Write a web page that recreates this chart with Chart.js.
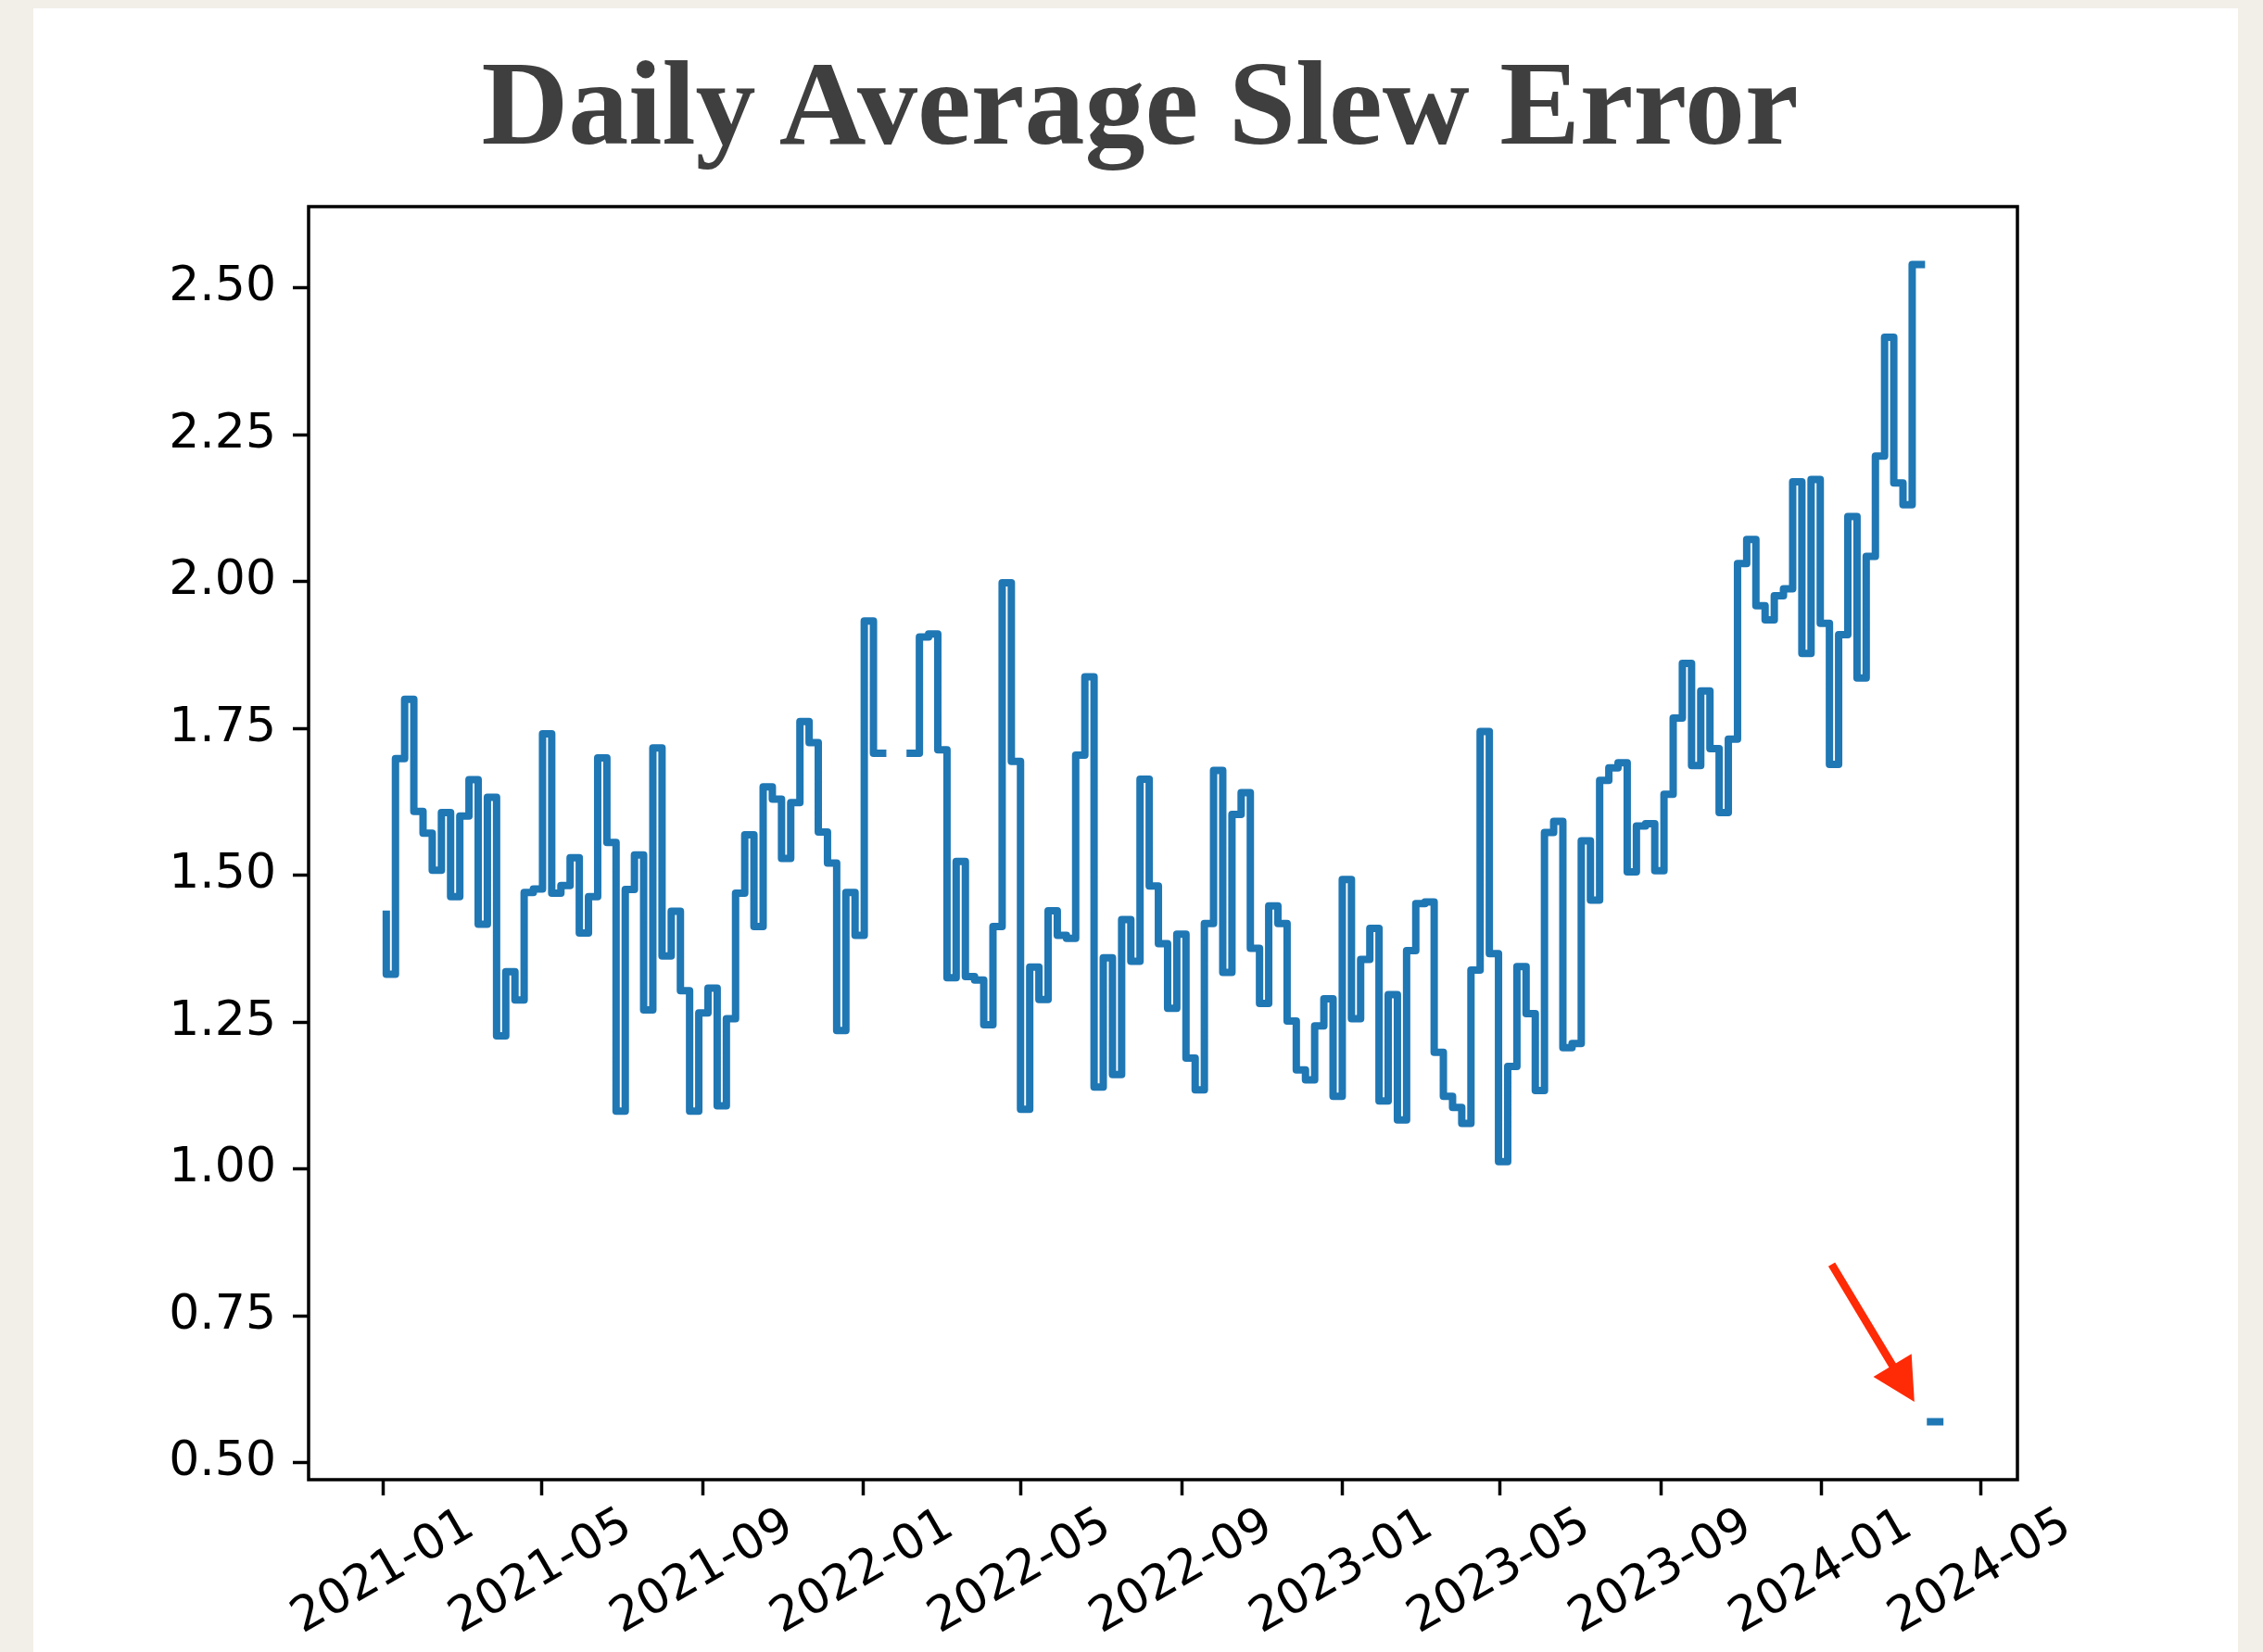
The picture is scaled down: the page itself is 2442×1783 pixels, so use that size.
<!DOCTYPE html>
<html><head><meta charset="utf-8">
<script src="https://cdn.jsdelivr.net/npm/chart.js@4.4.1/dist/chart.umd.min.js"></script>
<style>
html,body{margin:0;padding:0;width:2442px;height:1783px;overflow:hidden;background:#f2efe9;}
#card{position:absolute;left:36px;top:9px;width:2379px;height:1774px;background:#ffffff;}
#title{position:absolute;left:0;top:46px;width:2460px;margin:0;text-align:center;font-family:'Liberation Serif',serif;font-weight:bold;font-size:130px;line-height:130px;color:#3f3f3f;}
#c{position:absolute;left:0;top:0;}
</style></head><body>
<div id="card"></div>
<h1 id="title">Daily Average Slew Error</h1>
<canvas id="c" width="2442" height="1783"></canvas>
<script>
// ---- data ----
const firstWeek = '2021-01-03';   // weekly buckets (Sundays)
const weekDays = 7;
const slewError = [
  1.434, 1.332, 1.699, 1.800, 1.609, 1.572, 1.509, 1.607, 1.464, 1.601,
  1.663, 1.417, 1.633, 1.227, 1.336, 1.288, 1.471, 1.477, 1.741, 1.470,
  1.483, 1.530, 1.402, 1.464, 1.700, 1.556, 1.099, 1.476, 1.535, 1.271,
  1.717, 1.363, 1.439, 1.304, 1.099, 1.266, 1.308, 1.108, 1.256, 1.470,
  1.569, 1.413, 1.651, 1.630, 1.529, 1.624, 1.762, 1.726, 1.574, 1.521,
  1.236, 1.471, 1.398, 1.933, 1.708, null,  null,  null,  1.708, 1.906,
  1.911, 1.714, 1.326, 1.524, 1.328, 1.322, 1.246, 1.413, 1.998, 1.694,
  1.102, 1.344, 1.289, 1.440, 1.398, 1.393, 1.705, 1.838, 1.140, 1.360,
  1.161, 1.425, 1.354, 1.664, 1.482, 1.384, 1.274, 1.400, 1.189, 1.135,
  1.418, 1.679, 1.335, 1.604, 1.641, 1.376, 1.282, 1.448, 1.418, 1.252,
  1.169, 1.152, 1.244, 1.290, 1.124, 1.493, 1.256, 1.357, 1.410, 1.116,
  1.297, 1.084, 1.372, 1.452, 1.455, 1.199, 1.124, 1.105, 1.078, 1.339,
  1.745, 1.367, 1.013, 1.175, 1.345, 1.265, 1.134, 1.573, 1.592, 1.207,
  1.214, 1.559, 1.458, 1.662, 1.683, 1.692, 1.506, 1.584, 1.588, 1.508,
  1.638, 1.768, 1.861, 1.687, 1.814, 1.716, 1.607, 1.732, 2.031, 2.072,
  1.959, 1.935, 1.976, 1.988, 2.170, 1.878, 2.174, 1.929, 1.689, 1.910,
  2.111, 1.836, 2.043, 2.214, 2.416, 2.168, 2.131, 2.540, null,  0.570
];
const xTickLabels = ['2021-01','2021-05','2021-09','2022-01','2022-05','2022-09',
                     '2023-01','2023-05','2023-09','2024-01','2024-05'];
const yTickValues = [0.50, 0.75, 1.00, 1.25, 1.50, 1.75, 2.00, 2.25, 2.50];
const arrowTail = { date: '2024-01-08T17:00:00Z', value: 0.838 };
const arrowTip  = { date: '2024-03-11T17:00:00Z', value: 0.604 };

// ---- build ----
const DAY = 86400000;
const t0 = Date.parse(firstWeek + 'T00:00:00Z');
const weekDates = slewError.map((_, i) => t0 + i * weekDays * DAY);

// matplotlib "steps-pre" semantics incl. NaN gaps
const points = [];
slewError.forEach((v, i) => {
  if (v === null) { points.push({ x: weekDates[i], y: null }); return; }
  if (i > 0 && slewError[i - 1] === null) points.push({ x: weekDates[i - 1], y: v });
  points.push({ x: weekDates[i], y: v });
});

const xFirst = weekDates[0], xLast = weekDates[weekDates.length - 1];
const xPad = 0.05 * (xLast - xFirst);
const vals = slewError.filter(v => v !== null);
const yLo = Math.min(...vals), yHi = Math.max(...vals);
const yPad = 0.05 * (yHi - yLo);
const xTickValues = xTickLabels.map(s => Date.parse(s + '-01T00:00:00Z'));

const tickFont = { family: 'DejaVu Sans', size: 52 };

const framePlugin = {
  id: 'frame',
  afterDatasetsDraw(chart) {
    const { ctx, chartArea: a } = chart;
    ctx.save();
    ctx.strokeStyle = '#000';
    ctx.lineWidth = 3.5;
    ctx.strokeRect(a.left, a.top, a.right - a.left, a.bottom - a.top);
    ctx.restore();
  }
};

const arrowPlugin = {
  id: 'arrow',
  afterDatasetsDraw(chart) {
    const { ctx, scales } = chart;
    const x0 = scales.x.getPixelForValue(Date.parse(arrowTail.date));
    const y0 = scales.y.getPixelForValue(arrowTail.value);
    const x1 = scales.x.getPixelForValue(Date.parse(arrowTip.date));
    const y1 = scales.y.getPixelForValue(arrowTip.value);
    const dx = x1 - x0, dy = y1 - y0, len = Math.hypot(dx, dy);
    const ux = dx / len, uy = dy / len, px = -uy, py = ux;
    const headLen = 46, headHalf = 24;
    const bx = x1 - ux * headLen, by = y1 - uy * headLen;
    ctx.save();
    ctx.strokeStyle = '#ff2a06';
    ctx.fillStyle = '#ff2a06';
    ctx.lineWidth = 8.5;
    ctx.lineCap = 'butt';
    ctx.beginPath(); ctx.moveTo(x0, y0); ctx.lineTo(bx + ux * 4, by + uy * 4); ctx.stroke();
    ctx.beginPath();
    ctx.moveTo(x1, y1);
    ctx.lineTo(bx + px * headHalf, by + py * headHalf);
    ctx.lineTo(bx - px * headHalf, by - py * headHalf);
    ctx.closePath(); ctx.fill();
    ctx.restore();
  }
};

new Chart(document.getElementById('c').getContext('2d'), {
  type: 'line',
  data: {
    datasets: [{
      data: points,
      borderColor: '#1f77b4',
      borderWidth: 8,
      stepped: 'after',
      pointRadius: 0,
      pointHoverRadius: 0,
      spanGaps: false,
      fill: false,
      borderCapStyle: 'square',
      borderJoinStyle: 'round'
    }]
  },
  options: {
    responsive: false,
    animation: false,
    devicePixelRatio: 1,
    events: [],
    layout: { padding: { left: 0, right: 265, top: 223, bottom: 0 } },
    plugins: { legend: { display: false }, title: { display: false }, tooltip: { enabled: false } },
    scales: {
      x: {
        type: 'linear',
        min: xFirst - xPad,
        max: xLast + xPad,
        afterBuildTicks: ax => { ax.ticks = xTickValues.map(v => ({ value: v })); },
        afterFit: ax => { ax.height = 186; },
        ticks: {
          autoSkip: false, minRotation: 30, maxRotation: 30,
          padding: 2, labelOffset: 94, color: '#000', font: tickFont,
          callback: (v, i) => xTickLabels[i]
        },
        grid: { display: true, drawOnChartArea: false, drawTicks: true, tickLength: 17, tickWidth: 3.5, tickColor: '#000' },
        border: { display: false }
      },
      y: {
        type: 'linear',
        min: yLo - yPad,
        max: yHi + yPad,
        afterBuildTicks: ax => { ax.ticks = yTickValues.map(v => ({ value: v })); },
        afterFit: ax => { ax.width = 333; },
        ticks: { padding: 18, color: '#000', font: tickFont, callback: v => Number(v).toFixed(2) },
        grid: { display: true, drawOnChartArea: false, drawTicks: true, tickLength: 17, tickWidth: 3.5, tickColor: '#000' },
        border: { display: false }
      }
    }
  },
  plugins: [framePlugin, arrowPlugin]
});
</script>
</body></html>
